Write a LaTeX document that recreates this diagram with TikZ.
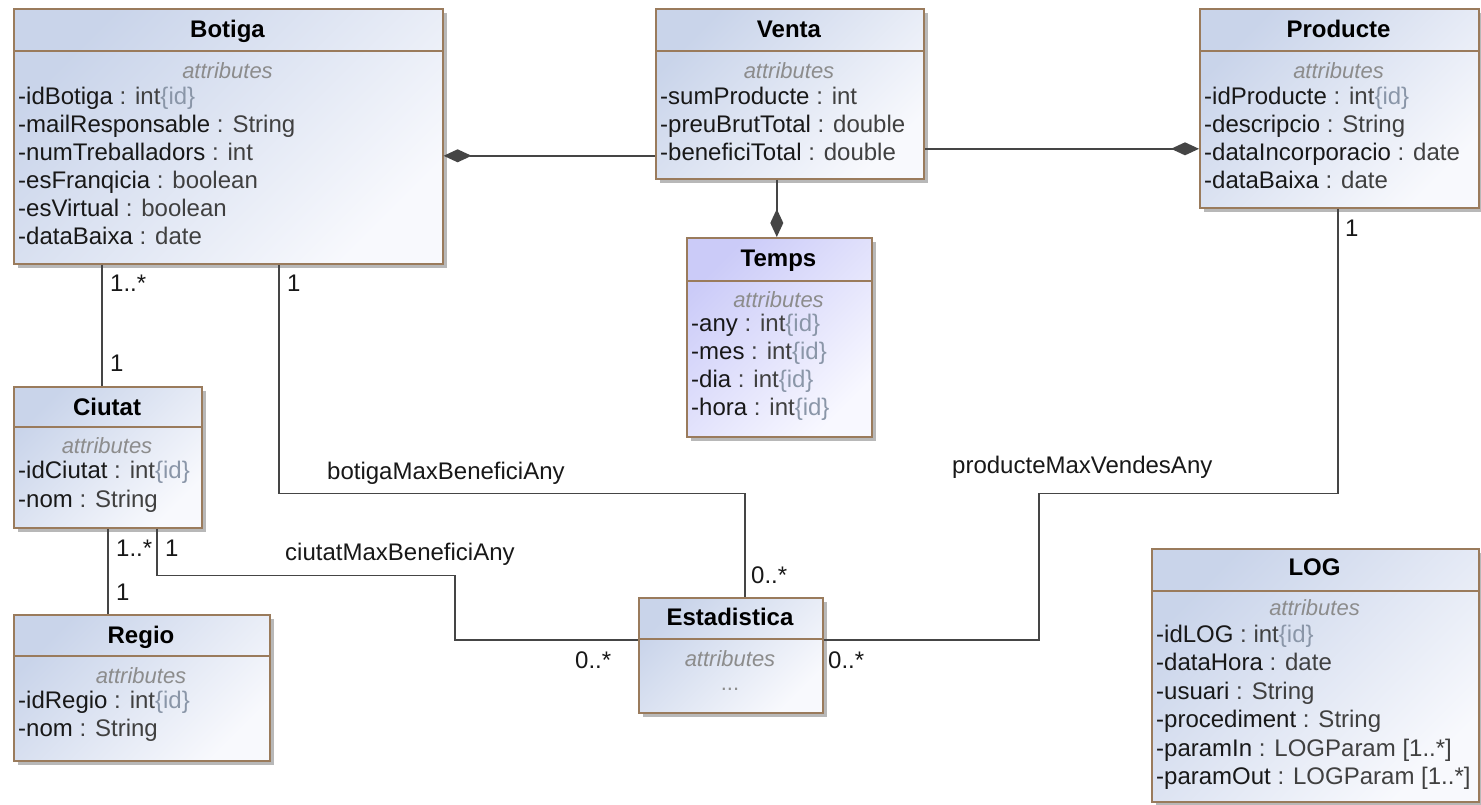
\documentclass[tikz,border=0pt]{standalone}
\usepackage{fontspec}
\setmainfont{Liberation Sans}
\usetikzlibrary{arrows.meta,shadows,calc}
\definecolor{umlborder}{HTML}{9A7B5C}
\definecolor{umltl}{HTML}{C9D4EA}
\definecolor{umlbr}{HTML}{F8F9FD}
\definecolor{tempstl}{HTML}{CBCBF8}
\definecolor{tempsbr}{HTML}{F8F8FF}
\definecolor{umlline}{HTML}{454545}
\definecolor{umltext}{HTML}{181818}
\definecolor{umltype}{HTML}{404040}
\definecolor{umlid}{HTML}{8A96A8}
\definecolor{umlattr}{HTML}{8C8C8C}
\newcommand\ty[1]{\textcolor{umltype}{#1}}
\newcommand\idtag{\textcolor{umlid}{\{id\}}}
\newcommand\hsep[2]{\draw[sepline] ([yshift=-#2pt]#1.north west) -- ([yshift=-#2pt]#1.north east);}
\tikzset{
  classbox/.style={draw=umlborder, line width=1.6pt, inner sep=0pt, anchor=north west,
    top color=umltl, bottom color=umlbr, shading angle=45,
    drop shadow={shadow xshift=4pt, shadow yshift=-4pt, fill=black!28, opacity=1}},
  tempsbox/.style={classbox, top color=tempstl, bottom color=tempsbr, shading angle=45},
  sepline/.style={draw=umlborder, line width=1.6pt},
  attrtext/.style={anchor=base west, inner sep=0pt, text=umltext, font=\fontsize{24}{28}\selectfont},
  titletext/.style={anchor=base, inner sep=0pt, text=black, font=\bfseries\fontsize{24}{28}\selectfont},
  attrlabel/.style={anchor=base, inner sep=0pt, text=umlattr, font=\itshape\fontsize{22}{26}\selectfont},
  mult/.style={anchor=base west, inner sep=0pt, text=umltext, font=\fontsize{24}{28}\selectfont},
  assoc/.style={draw=umlline, line width=1.6pt},
  comp/.style={assoc, -{Diamond[length=28pt,width=13pt]}},
}
\begin{document}
\begin{tikzpicture}[x=1pt,y=-1pt]
\fill[white] (0,0) rectangle (1481,804);
\useasboundingbox (0,0) rectangle (1481,804);

% ---- class boxes ----
\node[classbox, minimum width=429pt, minimum height=255pt] (botiga) at (13,8) {};
\node[classbox, minimum width=268pt, minimum height=170pt] (venta) at (655,8) {};
\node[classbox, minimum width=279pt, minimum height=199pt] (producte) at (1199,8) {};
\node[tempsbox, minimum width=185pt, minimum height=199pt] (temps) at (686,237) {};
\node[classbox, minimum width=188pt, minimum height=141pt] (ciutat) at (13,386) {};
\node[classbox, minimum width=256pt, minimum height=146pt] (regio) at (13,614) {};
\node[classbox, minimum width=184pt, minimum height=115pt] (estad) at (638,597) {};
\node[classbox, minimum width=327pt, minimum height=253pt] (log) at (1151,548) {};

\hsep{botiga}{43}
\hsep{venta}{43}
\hsep{producte}{43}
\hsep{temps}{44}
\hsep{ciutat}{41}
\hsep{regio}{42}
\hsep{estad}{42}
\hsep{log}{43}

% ---- Botiga ----
\node[titletext] (botigaT) at (227.5,37) {Botiga};
\node[attrlabel] (botigaA) at (227.5,78) {attributes};
\node[attrtext] (botiga1) at (18,104) {-idBotiga \ty{: int}\idtag};
\node[attrtext] (botiga2) at (18,132) {-mailResponsable \ty{: String}};
\node[attrtext] (botiga3) at (18,160) {-numTreballadors \ty{: int}};
\node[attrtext] (botiga4) at (18,188) {-esFranqicia \ty{: boolean}};
\node[attrtext] (botiga5) at (18,216) {-esVirtual \ty{: boolean}};
\node[attrtext] (botiga6) at (18,244) {-dataBaixa \ty{: date}};

% ---- Venta ----
\node[titletext] (ventaT) at (789,37) {Venta};
\node[attrlabel] (ventaA) at (789,78) {attributes};
\node[attrtext] (venta1) at (660,104) {-sumProducte \ty{: int}};
\node[attrtext] (venta2) at (660,132) {-preuBrutTotal \ty{: double}};
\node[attrtext] (venta3) at (660,160) {-beneficiTotal \ty{: double}};

% ---- Producte ----
\node[titletext] (producteT) at (1338.5,37) {Producte};
\node[attrlabel] (producteA) at (1338.5,78) {attributes};
\node[attrtext] (producte1) at (1204,104) {-idProducte \ty{: int}\idtag};
\node[attrtext] (producte2) at (1204,132) {-descripcio \ty{: String}};
\node[attrtext] (producte3) at (1204,160) {-dataIncorporacio \ty{: date}};
\node[attrtext] (producte4) at (1204,188) {-dataBaixa \ty{: date}};

% ---- Temps ----
\node[titletext] (tempsT) at (778.5,266) {Temps};
\node[attrlabel] (tempsA) at (778.5,307) {attributes};
\node[attrtext] (temps1) at (691,331) {-any \ty{: int}\idtag};
\node[attrtext] (temps2) at (691,359) {-mes \ty{: int}\idtag};
\node[attrtext] (temps3) at (691,387) {-dia \ty{: int}\idtag};
\node[attrtext] (temps4) at (691,415) {-hora \ty{: int}\idtag};

% ---- Ciutat ----
\node[titletext] (ciutatT) at (107,415) {Ciutat};
\node[attrlabel] (ciutatA) at (107,453) {attributes};
\node[attrtext] (ciutat1) at (18,478) {-idCiutat \ty{: int}\idtag};
\node[attrtext] (ciutat2) at (18,507) {-nom \ty{: String}};

% ---- Regio ----
\node[titletext] (regioT) at (141,643) {Regio};
\node[attrlabel] (regioA) at (141,683) {attributes};
\node[attrtext] (regio1) at (18,708) {-idRegio \ty{: int}\idtag};
\node[attrtext] (regio2) at (18,736) {-nom \ty{: String}};

% ---- Estadistica ----
\node[titletext] (estadT) at (730,625) {Estadistica};
\node[attrlabel] (estadA) at (730,666) {attributes};
\node[attrlabel, font=\fontsize{22}{26}\selectfont] (estadD) at (730,690) {...};

% ---- LOG ----
\node[titletext] (logT) at (1314.5,575) {LOG};
\node[attrlabel] (logA) at (1314.5,615) {attributes};
\node[attrtext] (log1) at (1156,642) {-idLOG \ty{: int}\idtag};
\node[attrtext] (log2) at (1156,670.5) {-dataHora \ty{: date}};
\node[attrtext] (log3) at (1156,699) {-usuari \ty{: String}};
\node[attrtext] (log4) at (1156,727.5) {-procediment \ty{: String}};
\node[attrtext] (log5) at (1156,756) {-paramIn \ty{: LOGParam [1..*]}};
\node[attrtext] (log6) at (1156,784.5) {-paramOut \ty{: LOGParam [1..*]}};

% ---- connectors ----
\draw[comp] ([yshift=-62pt]venta.west) -- ([yshift=-62pt]venta.west -| botiga.east);
\draw[comp] ([yshift=-55pt]venta.east) -- ([yshift=-55pt]venta.east -| producte.west);
\draw[comp] ([xshift=-13pt]venta.south) -- ([xshift=-13pt]venta.south |- temps.north);
\draw[assoc] ([xshift=89pt]botiga.south west) -- ([xshift=89pt]botiga.south west |- ciutat.north);
\draw[assoc] ([xshift=266pt]botiga.south west) -- ++(0,229) -| ([xshift=14pt]estad.north);
\draw[assoc] ([xshift=95pt]ciutat.south west) -- ([xshift=95pt]ciutat.south west |- regio.north);
\draw[assoc] ([xshift=144pt]ciutat.south west) -- ++(0,47) -- ++(298,0) |- ([yshift=15.5pt]estad.west);
\draw[assoc] ([xshift=139pt]producte.south west) -- ++(0,285) -- ++(-299,0) |- ([yshift=15.5pt]estad.east);

% ---- multiplicities and role names ----
\node[mult] (m1) at (110,291) {1..*};
\node[mult] (m2) at (110,371) {1};
\node[mult] (m3) at (287,291) {1};
\node[mult] (m4) at (116,556) {1..*};
\node[mult] (m5) at (165,556) {1};
\node[mult] (m6) at (116,600) {1};
\node[mult] (m7) at (1345,236) {1};
\node[mult] (m8) at (751,583) {0..*};
\node[mult] (m9) at (575,668) {0..*};
\node[mult] (m10) at (828,668) {0..*};
\node[mult] (r1) at (327,479) {botigaMaxBeneficiAny};
\node[mult] (r2) at (285,560) {ciutatMaxBeneficiAny};
\node[mult] (r3) at (952,473) {producteMaxVendesAny};
\end{tikzpicture}
\end{document}
